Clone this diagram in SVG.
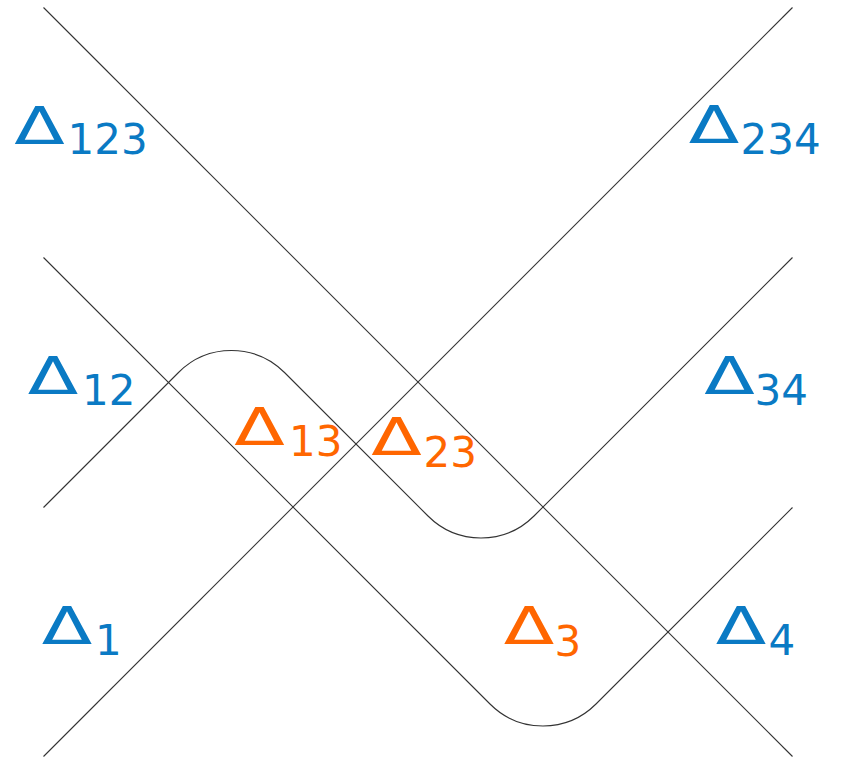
<svg xmlns="http://www.w3.org/2000/svg" width="847" height="757" viewBox="0 0 847 757">
<style>
.ln{fill:none;stroke:#333;stroke-width:1.1}
.b{fill:#0a7ac4}
.o{fill:#ff6600}
.d{font-family:"DejaVu Sans",sans-serif;font-size:52px;text-anchor:middle}
.s{font-family:"DejaVu Sans",sans-serif;font-size:42px}
</style>
<rect width="847" height="757" fill="#fff"/>
<g id="connectors">
<path class="ln" d="M43.5 7.5 L792.5 756.5"/>
<path class="ln" d="M792.5 7.5 L43.5 756.5"/>
<path class="ln" d="M43.5 257.5 L490 704 A75 75 0 0 0 596 704 L792.5 507.5"/>
<path class="ln" d="M43.5 507.5 L178.5 372.5 A75 75 0 0 1 284.5 372.5 L428 516 A75 75 0 0 0 534 516 L792.5 257.5"/>
</g>
<g id="n123" class="b"><text class="d" transform="translate(39.5,144) scale(1.42,1)">Δ</text><text class="s" x="67.5" y="154">123</text></g>
<g id="n234" class="b"><text class="d" transform="translate(714,143) scale(1.42,1)">Δ</text><text class="s" x="740.5" y="154">234</text></g>
<g id="n12" class="b"><text class="d" transform="translate(53,394) scale(1.42,1)">Δ</text><text class="s" x="82" y="405">12</text></g>
<g id="n34" class="b"><text class="d" transform="translate(729.5,394) scale(1.42,1)">Δ</text><text class="s" x="754.5" y="405">34</text></g>
<g id="n13" class="o"><text class="d" transform="translate(259.5,445) scale(1.42,1)">Δ</text><text class="s" x="289" y="456">13</text></g>
<g id="n23" class="o"><text class="d" transform="translate(396.5,455) scale(1.42,1)">Δ</text><text class="s" x="423.5" y="466.5">23</text></g>
<g id="n1" class="b"><text class="d" transform="translate(67,644) scale(1.42,1)">Δ</text><text class="s" x="95" y="655">1</text></g>
<g id="n3" class="o"><text class="d" transform="translate(529,644) scale(1.42,1)">Δ</text><text class="s" x="554.5" y="656">3</text></g>
<g id="n4" class="b"><text class="d" transform="translate(741,644) scale(1.42,1)">Δ</text><text class="s" x="768.5" y="655">4</text></g>
</svg>
